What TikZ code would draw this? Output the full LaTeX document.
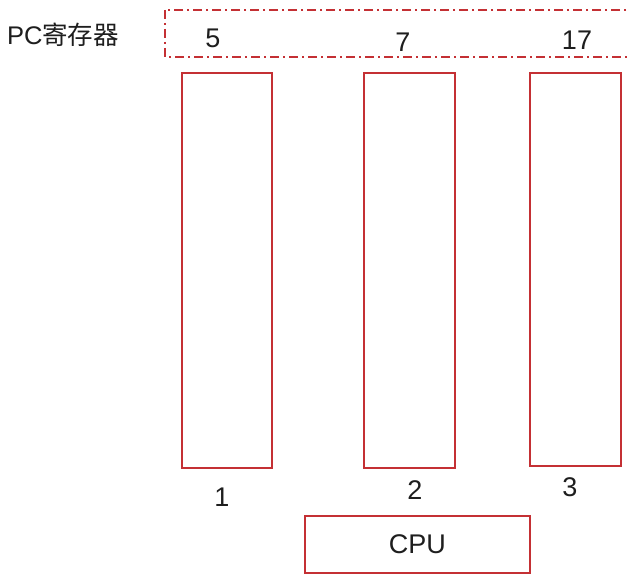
\documentclass[tikz,border=0pt]{standalone}
\usepackage{fontspec}
\setmainfont{Liberation Sans}
\newfontfamily\cjk{Noto Sans CJK SC}
\definecolor{boxred}{RGB}{196,48,52}
\definecolor{ink}{RGB}{30,30,30}
\begin{document}
\begin{tikzpicture}[x=1pt,y=-1pt,
  membox/.style={draw=boxred,line width=1.8pt,inner sep=0pt,anchor=north west},
  lbl/.style={text=ink,font=\fontsize{27}{27}\selectfont,inner sep=0pt},
  pcbox/.style={draw=boxred,line width=2pt,dash pattern=on 9pt off 4pt on 2pt off 4pt}]
\useasboundingbox (0,0) rectangle (629,583);
\fill[white] (0,0) rectangle (629,583);
% PC register row
\node[lbl,font=\fontsize{25.5}{25.5}\selectfont] (pclabel) at (63,35) {PC{\cjk 寄存器}};
\draw[pcbox] (165,10) rectangle (640,57);
\node[lbl] (pc1) at (213,38) {5};
\node[lbl] (pc2) at (403,42) {7};
\node[lbl] (pc3) at (577,40) {17};
% memory columns
\node[membox,minimum width=90pt,minimum height=395pt] (m1) at (181,72) {};
\node[membox,minimum width=91pt,minimum height=395pt] (m2) at (363,72) {};
\node[membox,minimum width=91pt,minimum height=393pt] (m3) at (529,72) {};
\node[lbl] (n1) at (222,497) {1};
\node[lbl] (n2) at (415,490) {2};
\node[lbl] (n3) at (570,487) {3};
% processor
\node[membox,minimum width=225pt,minimum height=57pt] (cpu) at (304,515) {};
\node[lbl] (cputext) at (cpu.center) {CPU};
\end{tikzpicture}
\end{document}
